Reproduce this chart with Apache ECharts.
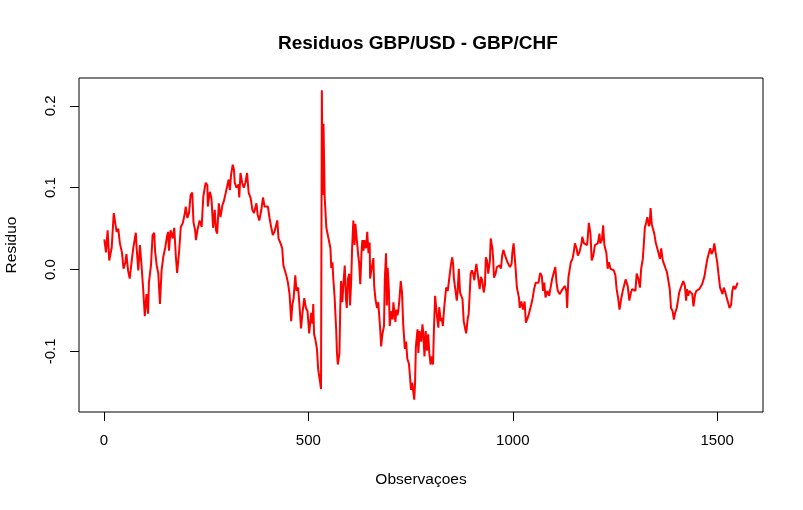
<!DOCTYPE html>
<head>
    <meta charset="utf-8">
    <title>Residuos GBP/USD - GBP/CHF</title>
    <script src="https://cdn.jsdelivr.net/npm/echarts@6.0.0/dist/echarts.min.js"></script>
</head>
<body style="margin:0">
    <div id="residuos" style="width:803px;height:510px"></div>
    <script type="text/javascript">
        // observacoes (eixo x) e residuos
        var obs = [
            1,5,9,13,19,24,28,31,35,39, 44,48,52,55,59,63,68,72,78,80, 84,88,92,96,100,104,108,110,115,119,
            123,125,129,133,137,141,145,150,154,157, 159,163,168,172,176,179,184,188,193,198,
            200,204,208,212,216,219,223,225,229,234, 239,243,247,
            249,253,254,259,263,267,271,274,277,281, 285,290,293,298,302,305,308,311,315,318,
            320,324,329,331,334,338,342,346,350,354, 359,363,367,371,373,376,380,385,389,393,
            397,401,405,409,413,417,421,424,427,432, 436,439,442,446,450,454,458,461,464,468,
            471,475,478,482,486,490,494,498,502,
            507,510,512,514,517,521,524,528,531,533, 535,537,540,542,544,547,550,554,556,559,
            561,564,568,570,572,576,578,580,583,586, 589,592,594,597,600,602,605,607,610,613,
            615,619,622,624,627,630,632,635,637,641, 644,647,650,651,655,659,661,664,668,671,
            673,676,678,681,685,687,690,692,694,697, 699,702,706,708,711,713,715,718,720,723,
            726,729,732,736,739,742,746,748,
            751,754,759,761,763,767,769,772,776,779, 781,784,787,790,793,796,799,802,805,807,
            810,813,815,818,820,824,826,829,832,835, 837,841,844,846,849,852,854,856,859,863,
            865,868,871,875,877,880,883,886,890,892, 894,897,900,903,906,908,911,915,919,922,
            925,929,932,934,937,940,944,946,950,952, 954,958,961,964,968,971,974,977,980,984,
            987,990,993,997,999,1002,
            1004,1007,1010,1015,1017,1021,1025,1029,1032,1035, 1039,1043,1045,1049,1052,1056,1060,1063,1067,1071,
            1074,1077,1080,1085,1089,1093,1096,1100,1104,1107, 1110,1115,1119,1123,1127,1131,1133,1136,1139,1142,
            1146,1149,1152,1156,1159,1163,1168,1170,1174,1178, 1182,1186,1190,1193,1197,1201,1204,1208,1212,1214,
            1218,1221,1224,1229,1232,1235,1239,1243,1247,1251, 1254,1258,1261,
            1265,1269,1272,1276,1279,1281,1285,1289,1292,1296, 1300,1303,1307,1311,1314,1318,1320,1323,1326,1329,
            1333,1335,1337,1340,1343,1346,1350,1353,1357,1360, 1363,1367,1370,1374,1377,1380,1384,1387,1391,1394,
            1397,1401,1404,1407,1411,1414,1417,1421,1424,1426, 1429,1432,1436,1439,1442,1446,1449,1452,1456,1459,
            1463,1466,1469,1473,1476,1479,1483,1486,1490,1493, 1496,1500,1503,1507,1510,1513,1516,1520,1523,1527,
            1530,1534,1537,1540,1544,1547,1550
        ];
        var residuo = [
            0.037,0.021,0.048,0.011,0.027,0.069,0.068,0.046,0.050,0.032, 0.021,0.001,0.008,0.019,-0.001,-0.011,0.011,0.027,0.045,0.026, -0.001,0.030,0.005,-0.024,-0.057,-0.030,-0.054,-0.016,0.005,0.042,
            0.045,0.023,0.005,-0.005,-0.042,-0.001,0.015,0.027,0.040,0.046, 0.023,0.048,0.038,0.051,0.015,-0.004,0.023,0.052,0.057,0.069,
            0.077,0.063,0.069,0.091,0.094,0.058,0.048,0.036,0.049,0.060, 0.052,0.089,0.101,
            0.106,0.103,0.077,0.095,0.087,0.051,0.073,0.048,0.044,0.081, 0.064,0.079,0.083,0.094,0.092,0.110,0.097,0.116,0.128,0.122,
            0.106,0.100,0.104,0.088,0.118,0.106,0.100,0.106,0.118,0.094, 0.087,0.073,0.069,0.071,0.081,0.067,0.060,0.073,0.088,0.077,
            0.075,0.077,0.063,0.052,0.042,0.046,0.048,0.060,0.038,0.032, 0.026,0.005,0.003,-0.007,-0.016,-0.030,-0.063,-0.042,-0.035,-0.007,
            -0.026,-0.022,-0.042,-0.072,-0.051,-0.035,-0.047,-0.051,-0.078,
            -0.053,-0.066,-0.042,-0.079,-0.085,-0.097,-0.122,-0.135,-0.146,0.219, 0.091,0.178,0.087,0.085,0.051,0.050,0.036,0.026,0.002,0.009,
            -0.011,-0.032,-0.073,-0.102,-0.116,-0.102,-0.047,-0.014,-0.040,-0.016, 0.005,-0.036,-0.047,-0.011,-0.005,-0.044,-0.011,0.026,0.060,0.030,
            0.056,0.058,0.017,0.009,-0.018,0.021,0.036,0.023,0.036,0.026, 0.046,0.020,0.033,-0.011,0.002,0.014,-0.020,-0.036,-0.047,-0.040,
            -0.054,-0.075,-0.094,-0.079,-0.069,-0.011,0.020,-0.044,0.002,-0.026, -0.069,-0.051,-0.061,-0.040,-0.056,-0.064,-0.049,-0.056,-0.051,-0.035,
            -0.014,-0.028,-0.067,-0.097,-0.088,-0.109,-0.115,-0.127,
            -0.147,-0.138,-0.159,-0.138,-0.094,-0.073,-0.102,-0.075,-0.088,-0.067, -0.077,-0.106,-0.075,-0.099,-0.079,-0.103,-0.116,-0.106,-0.116,-0.075,
            -0.032,-0.034,-0.059,-0.071,-0.046,-0.063,-0.059,-0.069,-0.048,-0.050, -0.022,-0.026,-0.024,-0.005,0.007,0.015,0.007,-0.011,-0.013,-0.038,
            -0.028,0.001,-0.028,-0.026,-0.036,-0.063,-0.071,-0.078,-0.059,-0.055, -0.036,-0.005,-0.001,-0.005,-0.013,-0.003,0.007,0.009,-0.024,-0.009,
            -0.013,-0.028,-0.018,0.015,0.011,-0.005,0.011,0.038,0.026,0.013, -0.010,-0.005,0.003,0.003,0.005,0.001,0.017,0.024,0.019,0.013,
            0.009,0.007,0.003,0.007,0.021,0.032,
            0.032,0.001,-0.022,-0.034,-0.047,-0.039,-0.049,-0.039,-0.065,-0.061, -0.055,-0.055,-0.043,-0.034,-0.024,-0.016,-0.014,-0.016,-0.004,-0.008,
            -0.026,-0.016,-0.034,-0.026,-0.032,-0.030,-0.012,-0.010,0.003,-0.016, -0.026,-0.030,-0.026,-0.024,-0.020,-0.026,-0.047,-0.010,-0.008,0.009,
            0.013,0.021,0.032,0.026,0.017,0.021,0.032,0.040,0.032,0.034, 0.030,0.057,0.044,0.011,0.017,0.030,0.028,0.032,0.044,0.032,
            0.036,0.054,0.030,0.020,0.001,0.009,0.001,0.003,-0.001,-0.007, -0.024,-0.036,-0.049,
            -0.036,-0.026,-0.020,-0.012,-0.010,-0.020,-0.038,-0.028,-0.024,-0.022, -0.026,-0.005,-0.011,-0.022,0.001,0.013,0.027,0.051,0.057,0.064,
            0.053,0.057,0.075,0.055,0.057,0.044,0.032,0.034,0.019,0.013, 0.026,0.011,0.009,0.001,-0.003,-0.005,-0.024,-0.047,-0.051,-0.061,
            -0.053,-0.047,-0.038,-0.028,-0.022,-0.020,-0.014,-0.020,-0.038,-0.024, -0.032,-0.026,-0.028,-0.030,-0.045,-0.030,-0.026,-0.026,-0.024,-0.026,
            -0.018,-0.018,-0.008,0.005,0.013,0.019,0.026,0.019,0.023,0.032, 0.021,0.009,-0.005,-0.022,-0.024,-0.030,-0.022,-0.028,-0.034,-0.041,
            -0.047,-0.043,-0.026,-0.020,-0.024,-0.022,-0.016
        ];
        var xTicks = [0, 500, 1000, 1500];
        var yTicks = [-0.1, 0.0, 0.1, 0.2];

        var dados = [];
        for (var i = 0; i < obs.length; i++) dados.push([obs[i], residuo[i]]);

        var myChart = echarts.init(document.getElementById('residuos'));
        var option = {
            animation: false,
            backgroundColor: '#fff',
            textStyle: {fontFamily: 'Liberation Sans, Arial, sans-serif', color: '#000'},
            title: {
                text: 'Residuos GBP/USD - GBP/CHF',
                left: 273, top: 29,
                textStyle: {fontSize: 19, fontWeight: 'bold', color: '#000', fontFamily: 'Liberation Sans, Arial, sans-serif'}
            },
            grid: {
                left: 79, right: 40, top: 78, bottom: 98,
                outerBoundsMode: 'none', containLabel: false,
                show: true, borderColor: '#000', borderWidth: 1
            },
            xAxis: {
                type: 'value', min: -61, max: 1612,
                name: 'Observaçoes', nameLocation: 'middle', nameGap: 60,
                nameTextStyle: {fontSize: 15.5, color: '#000'},
                axisLine: {show: false, onZero: false},
                splitLine: {show: false},
                axisTick: {show: true, inside: false, length: 9, customValues: xTicks, lineStyle: {color: '#000'}},
                axisLabel: {
                    customValues: xTicks, margin: 21, fontSize: 15, color: '#000',
                    formatter: function (v) { return String(v); }
                }
            },
            yAxis: {
                type: 'value', min: -0.174, max: 0.234,
                name: 'Residuo', nameLocation: 'middle', nameGap: 59,
                nameTextStyle: {fontSize: 15.5, color: '#000'},
                axisLine: {show: false, onZero: false},
                splitLine: {show: false},
                axisTick: {show: true, inside: false, length: 9, customValues: yTicks, lineStyle: {color: '#000'}},
                axisLabel: {
                    customValues: yTicks, rotate: 90, margin: 21, fontSize: 15, color: '#000',
                    formatter: function (v) { return v.toFixed(1); }
                }
            },
            series: [{
                type: 'line',
                data: dados,
                showSymbol: false,
                lineStyle: {color: '#ff0000', width: 2},
                itemStyle: {color: '#ff0000'}
            }]
        };
        myChart.setOption(option);
    </script>
</body>
